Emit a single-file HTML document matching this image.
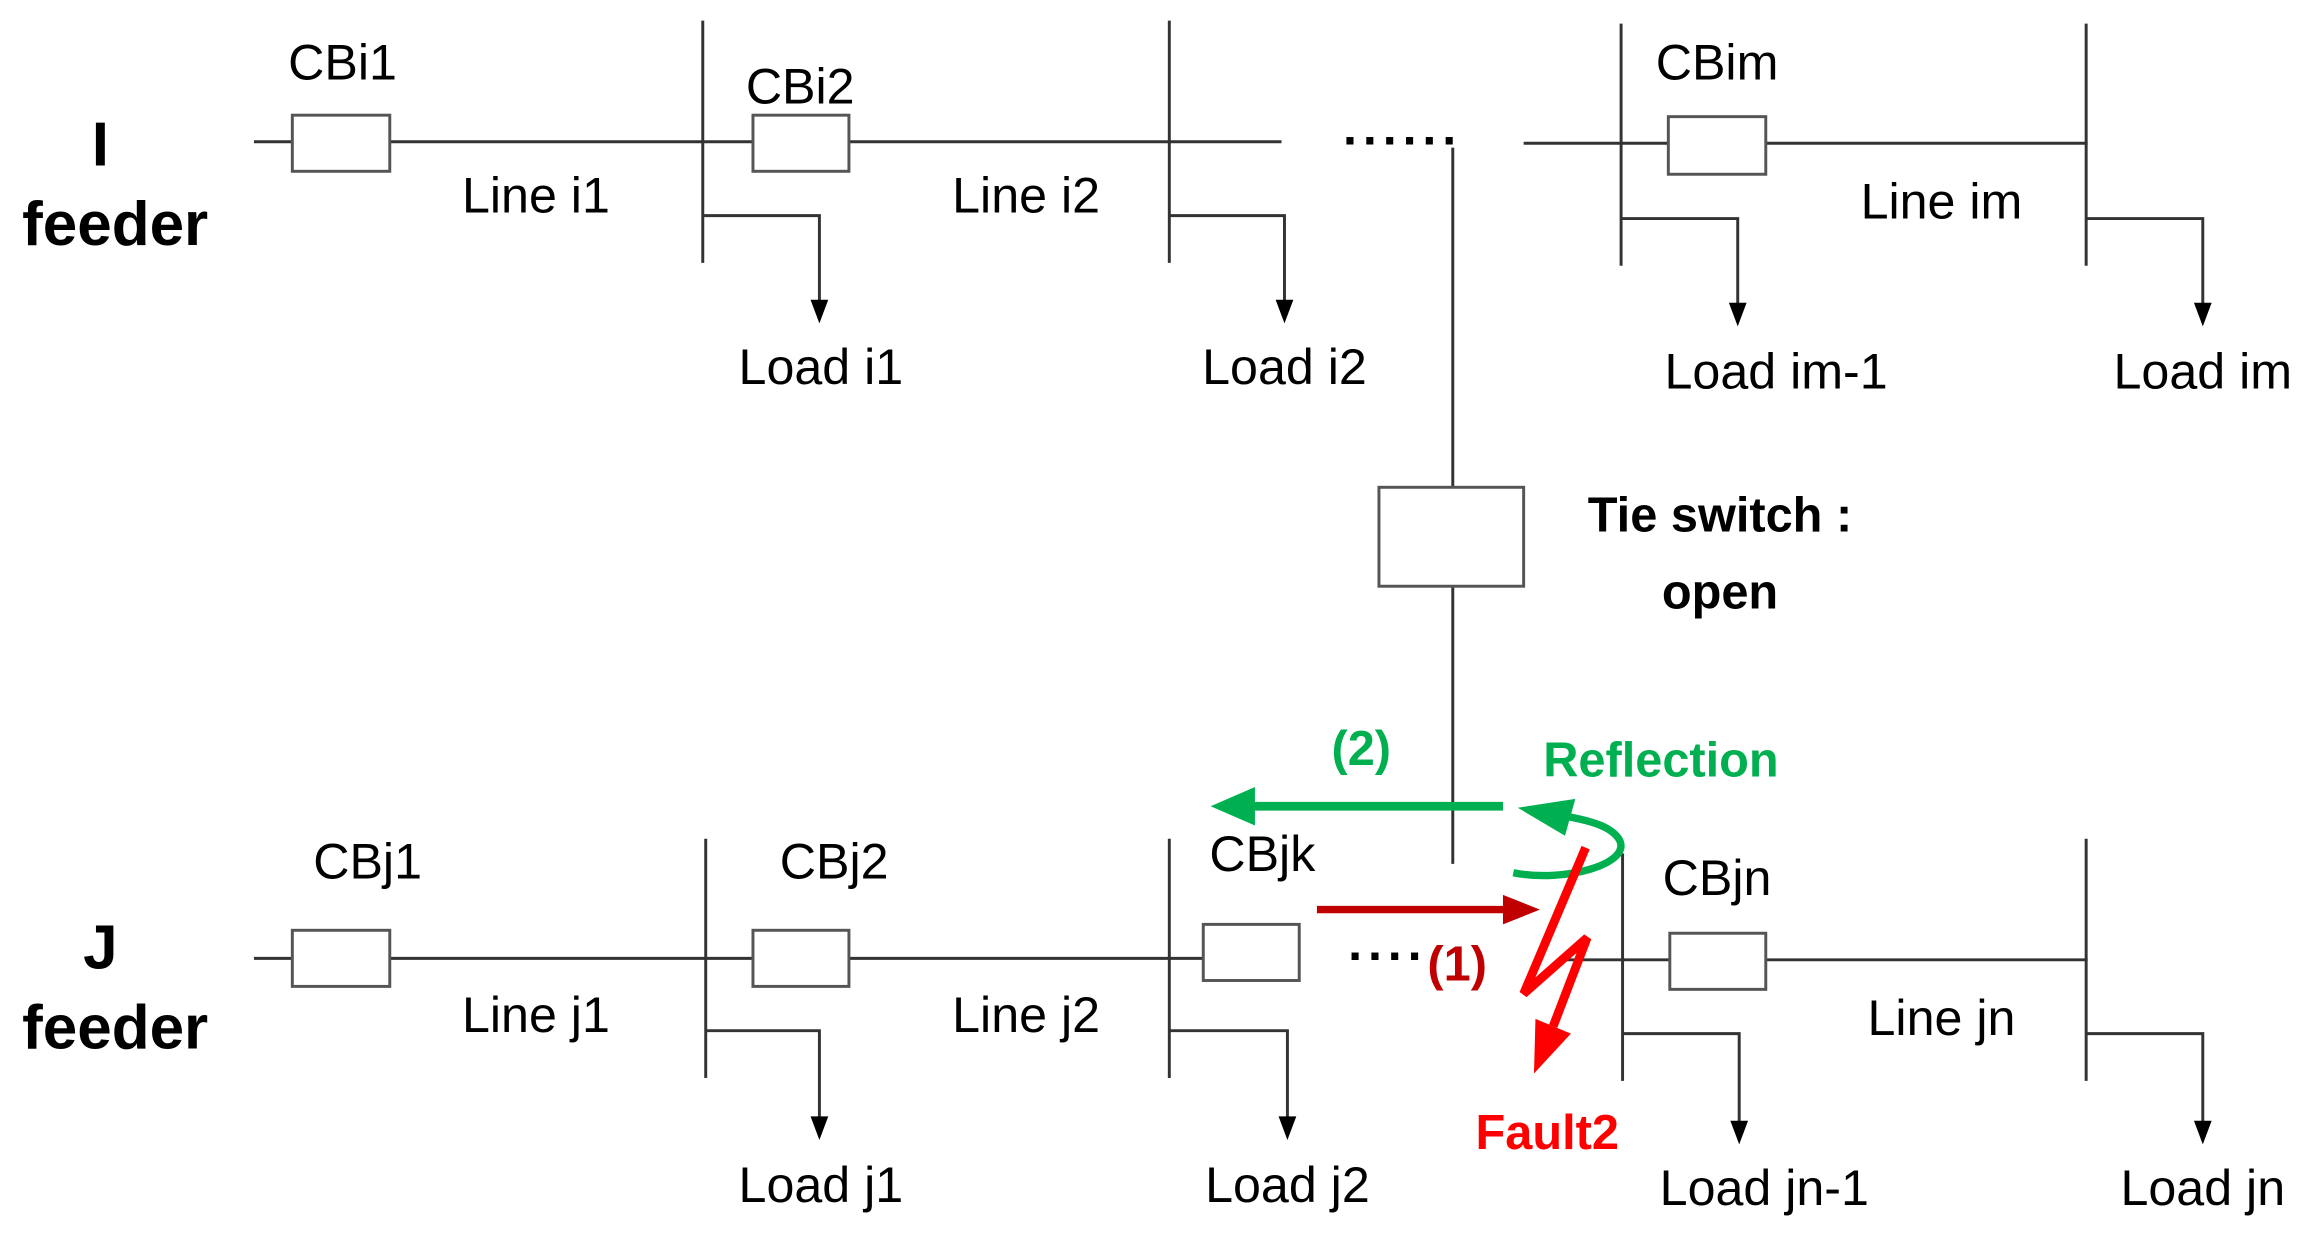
<!DOCTYPE html>
<html><head><meta charset="utf-8"><style>html,body{margin:0;padding:0;background:#fff}svg{display:block}</style></head>
<body>
<svg width="2315" height="1233" viewBox="0 0 1568 835" preserveAspectRatio="none" xmlns="http://www.w3.org/2000/svg" font-family="Liberation Sans, sans-serif">
<g stroke="#333" stroke-width="2" fill="none">
<line x1="172" y1="96" x2="868" y2="96"/>
<line x1="1032" y1="97" x2="1414" y2="97"/>
<line x1="476" y1="14" x2="476" y2="178"/>
<line x1="792" y1="14" x2="792" y2="178"/>
<line x1="1098" y1="16" x2="1098" y2="180"/>
<line x1="1413" y1="16" x2="1413" y2="180"/>
<polyline points="476,146 555,146 555,205"/>
<polyline points="792,146 870,146 870,205"/>
<polyline points="1098,148 1177,148 1177,207"/>
<polyline points="1413,148 1492,148 1492,207"/>
<line x1="984" y1="100" x2="984" y2="585"/>
<line x1="172" y1="649" x2="880" y2="649"/>
<line x1="1056" y1="650" x2="1414" y2="650"/>
<line x1="478" y1="568" x2="478" y2="730"/>
<line x1="792" y1="568" x2="792" y2="730"/>
<line x1="1099" y1="578" x2="1099" y2="732"/>
<line x1="1413" y1="568" x2="1413" y2="732"/>
<polyline points="478,698 555,698 555,758"/>
<polyline points="792,698 872,698 872,758"/>
<polyline points="1099,700 1178,700 1178,761"/>
<polyline points="1413,700 1492,700 1492,761"/>
</g>
<g fill="#000">
<path d="M549,203 L561,203 L555,219 Z"/>
<path d="M864,203 L876,203 L870,219 Z"/>
<path d="M1171,205 L1183,205 L1177,221 Z"/>
<path d="M1486,205 L1498,205 L1492,221 Z"/>
<path d="M549,756 L561,756 L555,772 Z"/>
<path d="M866,756 L878,756 L872,772 Z"/>
<path d="M1172,759 L1184,759 L1178,775 Z"/>
<path d="M1486,759 L1498,759 L1492,775 Z"/>
</g>
<g stroke="#555" stroke-width="2" fill="#fff">
<rect x="198" y="78" width="66" height="38"/>
<rect x="510" y="78" width="65" height="38"/>
<rect x="1130" y="79" width="66" height="39"/>
<rect x="934" y="330" width="98" height="67"/>
<rect x="198" y="630" width="66" height="38"/>
<rect x="510" y="630" width="65" height="38"/>
<rect x="815" y="626" width="65" height="38"/>
<rect x="1131" y="632" width="65" height="38"/>
</g>
<g fill="#000" font-size="34" text-anchor="middle">
<text x="232" y="54">CBi1</text>
<text x="542" y="70">CBi2</text>
<text x="1163" y="54">CBim</text>
<text x="363" y="144">Line i1</text>
<text x="695" y="144">Line i2</text>
<text x="1315" y="148">Line im</text>
<text x="556" y="260">Load i1</text>
<text x="870" y="260">Load i2</text>
<text x="1203" y="263">Load im-1</text>
<text x="1492" y="263">Load im</text>
<text x="249" y="595">CBj1</text>
<text x="565" y="595">CBj2</text>
<text x="855" y="590">CBjk</text>
<text x="1163" y="606">CBjn</text>
<text x="363" y="699">Line j1</text>
<text x="695" y="699">Line j2</text>
<text x="1315" y="701">Line jn</text>
<text x="556" y="814">Load j1</text>
<text x="872" y="814">Load j2</text>
<text x="1195" y="816">Load jn-1</text>
<text x="1492" y="816">Load jn</text>
<text x="950" y="98" font-weight="bold" letter-spacing="4">......</text>
<text x="940" y="650" font-weight="bold" letter-spacing="4">....</text>
</g>
<g fill="#000" font-weight="bold" font-size="42" text-anchor="middle">
<text x="68" y="112">I</text>
<text x="78" y="166">feeder</text>
<text x="68" y="656">J</text>
<text x="78" y="710">feeder</text>
<text x="1165" y="360" font-size="33">Tie switch :</text>
<text x="1165" y="412" font-size="33">open</text>
</g>
<line x1="1018" y1="546" x2="845" y2="546" stroke="#00b050" stroke-width="6"/>
<path d="M820,546 L850,533 L850,559 Z" fill="#00b050"/>
<text x="922" y="518" fill="#00b050" font-weight="bold" font-size="33" text-anchor="middle">(2)</text>
<text x="1125" y="526" fill="#00b050" font-weight="bold" font-size="33" text-anchor="middle">Reflection</text>
<path d="M1025,591 C1060,598 1105,585 1097,569 C1092,560 1078,556 1062,553" stroke="#00b050" stroke-width="5" fill="none"/>
<path d="M1028,547 L1067,541 L1060,566 Z" fill="#00b050"/>
<line x1="892" y1="616" x2="1020" y2="616" stroke="#c00000" stroke-width="5"/>
<path d="M1043,616 L1018,606 L1018,626 Z" fill="#c00000"/>
<text x="987" y="664" fill="#c00000" font-weight="bold" font-size="33" text-anchor="middle">(1)</text>
<polyline points="1074,574 1032,673 1075,635 1052,695" stroke="#ff0000" stroke-width="6" fill="none"/>
<path d="M1039,727 L1040,690 L1064,700 Z" fill="#ff0000"/>
<text x="1048" y="778" fill="#ff0000" font-weight="bold" font-size="33" text-anchor="middle">Fault2</text>
</svg>
</body></html>
